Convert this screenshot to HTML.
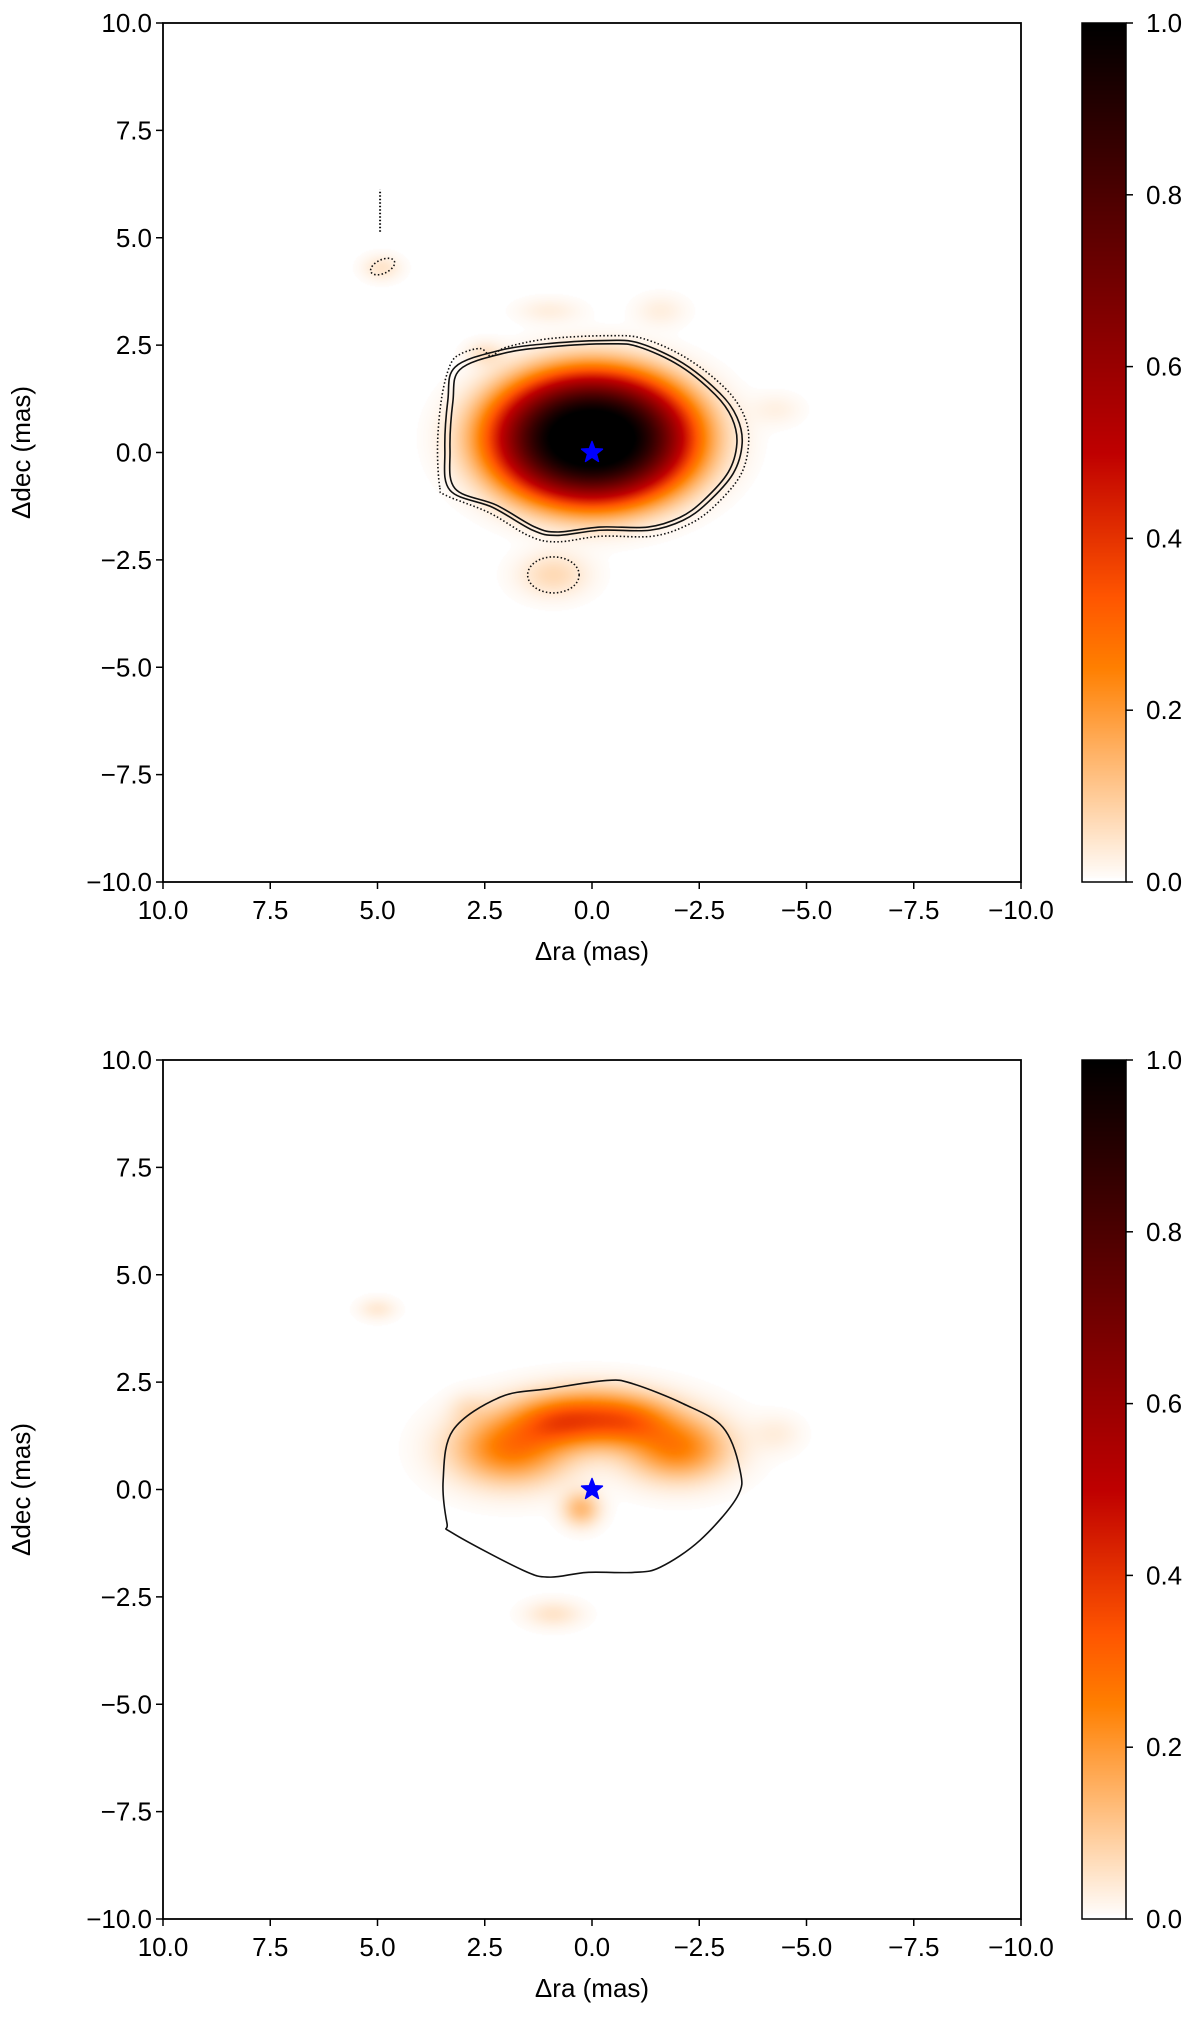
<!DOCTYPE html>
<html><head><meta charset="utf-8"><style>
body{margin:0;background:#fff;width:1200px;height:2021px;position:relative;overflow:hidden;font-family:"Liberation Sans","DejaVu Sans",sans-serif}
canvas{position:absolute}
svg{position:absolute;left:0;top:0}
</style></head><body>
<canvas id="img1" width="858" height="859" style="left:163px;top:23px"></canvas>
<canvas id="img2" width="858" height="859" style="left:163px;top:1060px"></canvas>
<canvas id="cb1" width="44" height="859" style="left:1082px;top:23px"></canvas>
<canvas id="cb2" width="44" height="859" style="left:1082px;top:1060px"></canvas>
<svg id="ov" width="1200" height="2021"></svg>
<script>
// ---- data ----
const axisTicks = [10, 7.5, 5, 2.5, 0, -2.5, -5, -7.5, -10];
const axisTickLabels = ["10.0","7.5","5.0","2.5","0.0","\u22122.5","\u22125.0","\u22127.5","\u221210.0"];
const cbTicks = [0, 0.2, 0.4, 0.6, 0.8, 1.0];
const cbTickLabels = ["0.0","0.2","0.4","0.6","0.8","1.0"];
// top main blob (super-gaussian)
const mainRa = 0.0, mainDec = 0.33, mainSx = 2.3, mainSy = 1.5, mainAmp = 1.08;
// top faint components
const topRa =  [0.9, 4.9, 1.0, -1.6, -4.3, 2.5];
const topDec = [-2.85, 4.3, 3.3, 3.3, 1.0, 2.3];
const topSx =  [0.55, 0.3, 0.5, 0.4, 0.4, 0.3];
const topSy =  [0.35, 0.2, 0.2, 0.25, 0.25, 0.2];
const topAmp = [0.07, 0.05, 0.03, 0.03, 0.025, 0.05];
// bottom components
const botRa =  [0.0, 1.9, -2.0, 0.9, -1.0, 0.25, 0.9, 5.0, -4.3, 2.9];
const botDec = [1.65, 0.95, 0.95, 1.55, 1.55, -0.45, -2.9, 4.2, 1.3, 1.9];
const botSx =  [1.1, 0.9, 0.8, 0.6, 0.6, 0.3, 0.45, 0.3, 0.4, 0.3];
const botSy =  [0.45, 0.55, 0.5, 0.35, 0.35, 0.28, 0.22, 0.18, 0.3, 0.25];
const botAmp = [0.32, 0.26, 0.24, 0.08, 0.08, 0.13, 0.05, 0.04, 0.03, 0.03];
// contours (ra, dec)
const solidRa =  [3.19,2.14,0.98,-0.42,-1.12,-2.12,-2.98,-3.38,-3.50,-3.29,-2.68,-2.12,-1.35,-0.19,0.82,1.38,2.31,3.31,3.43,3.36];
const solidDec = [1.99,2.38,2.54,2.61,2.54,2.08,1.38,0.82,0.21,-0.49,-1.18,-1.58,-1.81,-1.81,-1.93,-1.81,-1.28,-0.88,0.05,1.22];
const dotRa =  [3.55,3.6,3.5,3.3,3.05,2.6,2.35,2.0,1.0,-0.4,-1.2,-2.2,-3.1,-3.55,-3.65,-3.45,-2.8,-2.2,-1.4,-0.2,0.8,1.45,2.4,3.4];
const dotDec = [-0.8,0.2,1.3,2.05,2.3,2.42,2.25,2.45,2.65,2.72,2.65,2.2,1.5,0.85,0.2,-0.55,-1.3,-1.7,-1.95,-1.95,-2.08,-1.95,-1.4,-1.0];
const botCRa =  [3.24,2.14,0.98,-0.35,-0.96,-2.12,-3.05,-3.45,-3.38,-2.52,-1.59,-0.96,0.12,0.98,1.61,3.24,3.38,3.47];
const botCDec = [1.38,2.15,2.35,2.54,2.46,2.0,1.45,0.45,-0.18,-1.18,-1.81,-1.93,-1.93,-2.04,-1.88,-1.02,-0.79,0.21];
const loopRa = [0.9, 4.88], loopDec = [-2.85, 4.33], loopRx = [0.6, 0.3], loopRy = [0.42, 0.16];
const streakRa = 4.94, streakDec = [5.14, 6.12];

// ---- geometry ----
const AX = {l:163, r:1021, w:858};
const panels = [{t:23, b:882}, {t:1060, b:1919}];
function xs(ra){ return AX.l + (10 - ra) / 20 * AX.w; }
function ys(p, dec){ return p.t + (10 - dec) / 20 * (p.b - p.t); }

function cmap(v){ // gist_heat_r
  v = Math.max(0, Math.min(1, v)); if (v < 0.004) v = 0; const x = 1 - v;
  const r = Math.min(1, 1.5*x), g = Math.max(0, Math.min(1, 2*x-1)), b = Math.max(0, Math.min(1, 4*x-3));
  return [r*255|0, g*255|0, b*255|0];
}
function drawImg(id, fn){
  const c = document.getElementById(id), ctx = c.getContext('2d');
  const im = ctx.createImageData(c.width, c.height);
  for (let j=0;j<c.height;j++){ const dec = 10 - (j+0.5)/c.height*20;
    for (let i=0;i<c.width;i++){ const ra = 10 - (i+0.5)/c.width*20;
      const col = cmap(fn(ra, dec)); const k=(j*c.width+i)*4;
      im.data[k]=col[0]; im.data[k+1]=col[1]; im.data[k+2]=col[2]; im.data[k+3]=255; } }
  ctx.putImageData(im,0,0);
}
function gsum(ra, dec, R, D, SX, SY, A){
  let s=0; for(let n=0;n<R.length;n++){ const dx=(ra-R[n])/SX[n], dy=(dec-D[n])/SY[n]; s+=A[n]*Math.exp(-0.5*(dx*dx+dy*dy)); } return s;
}
drawImg('img1', (ra,dec)=>{ const q=Math.sqrt(((ra-mainRa)/mainSx)**2+((dec-mainDec)/mainSy)**2);
  return mainAmp*Math.exp(-q*q*q) + gsum(ra,dec,topRa,topDec,topSx,topSy,topAmp); });
drawImg('img2', (ra,dec)=> gsum(ra,dec,botRa,botDec,botSx,botSy,botAmp));
['cb1','cb2'].forEach(id=>{ const c=document.getElementById(id), ctx=c.getContext('2d');
  for(let j=0;j<c.height;j++){ const col=cmap(1-j/(c.height-1)); ctx.fillStyle=`rgb(${col[0]},${col[1]},${col[2]})`; ctx.fillRect(0,j,c.width,1);} });

// ---- svg overlay ----
const NS='http://www.w3.org/2000/svg', svg=document.getElementById('ov');
function mk(tag, attrs, parent){ const e=document.createElementNS(NS,tag); for(const k in attrs) e.setAttribute(k,attrs[k]); (parent||svg).appendChild(e); return e; }
function smoothPath(pts){
  const n=pts.length; let d=`M${pts[0][0]},${pts[0][1]}`;
  for(let i=0;i<n;i++){ const p0=pts[(i-1+n)%n],p1=pts[i],p2=pts[(i+1)%n],p3=pts[(i+2)%n];
    d+=` C${p1[0]+(p2[0]-p0[0])/6},${p1[1]+(p2[1]-p0[1])/6} ${p2[0]-(p3[0]-p1[0])/6},${p2[1]-(p3[1]-p1[1])/6} ${p2[0]},${p2[1]}`; }
  return d+'Z';
}
function contour(p, R, D, scale, dashed, name){
  const cx=0, cy=0.33;
  const pts=R.map((r,i)=>[xs(cx+(r-cx)*scale), ys(p, cy+(D[i]-cy)*scale)]);
  const e=mk('path',{d:smoothPath(pts),fill:'none',stroke:'#111','stroke-width':1.6,'stroke-dasharray':dashed?'1.5 2.2':'none'});
  
  
}
function star(p, name){
  const cx=xs(0), cy=ys(p,0), R=11, r=4.6; let d='';
  for(let i=0;i<10;i++){ const a=-Math.PI/2+i*Math.PI/5, rr=i%2?r:R; d+=(i?'L':'M')+(cx+rr*Math.cos(a))+','+(cy+rr*Math.sin(a)); }
  const e=mk('path',{d:d+'Z',fill:'#0000ff',stroke:'#0000ff','stroke-width':1.5,'stroke-linejoin':'round'});
  
  
}
function axes(p, idx){
  const g=mk('g',{});
  
  
  mk('rect',{x:AX.l,y:p.t,width:AX.w,height:p.b-p.t,fill:'none',stroke:'#000','stroke-width':1.8},g);
  axisTicks.forEach((v,i)=>{
    const x=xs(v); mk('line',{x1:x,x2:x,y1:p.b,y2:p.b+7,stroke:'#000','stroke-width':1.5},g);
    const t=mk('text',{x:x,y:p.b+37,'text-anchor':'middle','font-size':26},g); t.textContent=axisTickLabels[i];
    
    
    const y=ys(p,v); mk('line',{x1:AX.l-7,x2:AX.l,y1:y,y2:y,stroke:'#000','stroke-width':1.5},g);
    const t2=mk('text',{x:AX.l-11,y:y+9,'text-anchor':'end','font-size':26},g); t2.textContent=axisTickLabels[i];
    
    
  });
  const xl=mk('text',{x:592,y:p.b+78,'text-anchor':'middle','font-size':26},g); xl.textContent='\u0394ra (mas)';
  
  
  const yc=(p.t+p.b)/2;
  const yl=mk('text',{x:30,y:yc,'text-anchor':'middle','font-size':26,transform:`rotate(-90 30 ${yc})`},g); yl.textContent='\u0394dec (mas)';
  
  
  mk('rect',{x:1082,y:p.t,width:44,height:p.b-p.t,fill:'none',stroke:'#000','stroke-width':1.5},g);
  cbTicks.forEach((v,i)=>{ const y=p.b-v*(p.b-p.t);
    mk('line',{x1:1126,x2:1133,y1:y,y2:y,stroke:'#000','stroke-width':1.5},g);
    const t=mk('text',{x:1146,y:y+9,'font-size':26},g); t.textContent=cbTickLabels[i];
    
    
  });
}
const P1=panels[0], P2=panels[1];
contour(P1, dotRa, dotDec, 1, true, 'outer-dotted-contour');
contour(P1, solidRa, solidDec, 1, false, 'outer-solid-contour');
contour(P1, solidRa, solidDec, 0.965, false, 'inner-solid-contour');
loopRa.forEach((r,i)=>{ const e=mk('ellipse',{cx:xs(r),cy:ys(P1,loopDec[i]),rx:loopRx[i]*AX.w/20,ry:loopRy[i]*AX.w/20,fill:'none',stroke:'#111','stroke-width':1.6,'stroke-dasharray':'1.5 2.2',transform:i?`rotate(-25 ${xs(r)} ${ys(P1,loopDec[i])})`:''});
  
   });
const st=mk('line',{x1:xs(streakRa),x2:xs(streakRa),y1:ys(P1,streakDec[0]),y2:ys(P1,streakDec[1]),stroke:'#111','stroke-width':2,'stroke-dasharray':'1.5 2'});


contour(P2, botCRa, botCDec, 1, false, 'bottom-solid-contour');
star(P1,'star-marker-top'); star(P2,'star-marker-bottom');
axes(P1,'top'); axes(P2,'bottom');
</script>
</body></html>
